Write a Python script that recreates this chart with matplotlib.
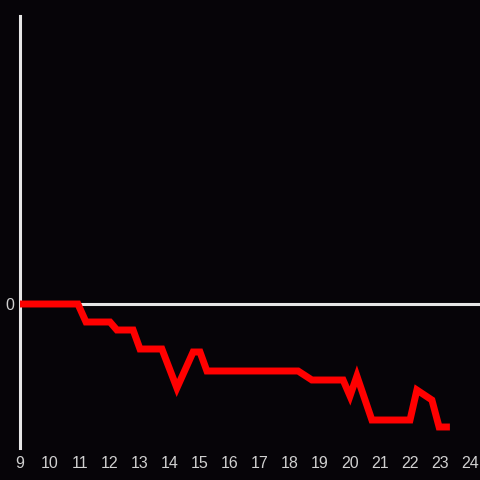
import matplotlib
matplotlib.use("Agg")
import matplotlib.pyplot as plt

# data (x = hour, y = relative value)
x = [9.0, 10.93, 11.2, 12.0, 12.23, 12.77, 13.0, 13.73, 14.23, 14.77, 15.0, 15.23,
     18.27, 18.73, 19.77, 20.0, 20.23, 20.73, 22.0, 22.23, 22.73, 22.97, 23.33]
y = [0, 0, -18, -18, -26, -26, -45, -45, -84, -48, -48, -67,
     -67, -76, -76, -92, -72, -116, -116, -86, -96, -123, -123]
xticks = list(range(9, 25))

bg = "#060408"
fig = plt.figure(figsize=(4.8, 4.8), dpi=100, facecolor=bg)
ax = fig.add_axes([20/480, 32/480, 460/480, 432/480], facecolor=bg)

ax.axhline(0, color="#e6e6e6", lw=2.2, zorder=1)
ax.plot(x, y, color="#ff0000", lw=5, solid_joinstyle="miter",
        solid_capstyle="butt", zorder=3)

ax.set_xlim(9, 9 + 460/30)
ax.set_ylim(-144, 288)
ax.set_xticks(xticks)
ax.set_xticklabels([str(t) for t in xticks])
ax.set_yticks([0])
ax.set_yticklabels(["0"])
for s in ["top", "right", "bottom"]:
    ax.spines[s].set_visible(False)
ax.spines["left"].set_color("#e6e6e6")
ax.spines["left"].set_linewidth(2.2)
ax.tick_params(axis="both", length=0, colors="#d0d0d0", labelsize=11.5)
ax.tick_params(axis="x", pad=6)
ax.tick_params(axis="y", pad=4)
for lab in ax.get_xticklabels() + ax.get_yticklabels():
    lab.set_family("Liberation Sans")

fig.savefig("out.png", dpi=100, facecolor=bg)
